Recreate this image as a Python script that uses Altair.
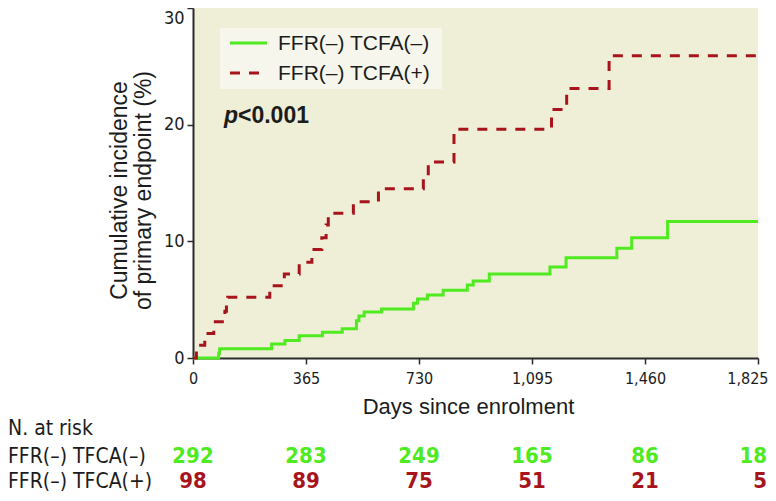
import altair as alt
import pandas as pd

# ---------------- data ----------------
series_names = ["FFR(–) TCFA(–)", "FFR(–) TCFA(+)"]
table_names = ["FFR(–) TFCA(–)", "FFR(–) TFCA(+)"]
x_ticks = [0, 365, 730, 1095, 1460, 1825]
y_ticks = [0, 10, 20, 30]

neg_days = [0, 83, 86, 254, 297, 343, 418, 482, 528, 536, 553, 609, 712, 725,
            757, 808, 886, 905, 957, 1153, 1205, 1369, 1417, 1533, 1825]
neg_vals = [0, 0.4, 0.8, 1.2, 1.5, 1.9, 2.2, 2.5, 3.2, 3.6, 3.95, 4.2, 4.7, 5.05,
            5.4, 5.8, 6.25, 6.6, 7.2, 7.8, 8.6, 9.4, 10.3, 11.7, 11.7]

pos_days = [0, 11, 38, 67, 103, 108, 112, 248, 295, 343, 384, 416, 430, 437,
            518, 599, 744, 760, 843, 1158, 1207, 1344, 1825]
pos_vals = [0, 1.1, 2.1, 3.1, 4.0, 4.6, 5.2, 6.2, 7.2, 8.2, 9.3, 10.3, 11.4, 12.4,
            13.4, 14.5, 15.6, 16.8, 19.6, 21.3, 23.1, 25.9, 25.9]

risk_days = [0, 365, 730, 1095, 1460, 1825]
risk_neg = [292, 283, 249, 165, 86, 18]
risk_pos = [98, 89, 75, 51, 21, 5]

p_label = ["p", "<0.001"]

# ---------------- style ----------------
GREEN = "#4FEA1F"
RED = "#A8141C"
BEIGE = "#EFEED6"
LEGBG = "#F6F6EC"
INK = "#1c1c1c"
SANS = "Liberation Sans, Arial, sans-serif"
NARROW = "DejaVu Sans Condensed, DejaVu Sans, sans-serif"
LAST = risk_days[-1]

km_df = pd.concat([
    pd.DataFrame({"day": neg_days, "value": neg_vals, "group": series_names[0]}),
    pd.DataFrame({"day": pos_days, "value": pos_vals, "group": series_names[1]}),
], ignore_index=True)

x_scale = alt.Scale(domain=[0, 1825], nice=False, zero=False)
y_scale = alt.Scale(domain=[0, 30], nice=False)
X_TITLE = "Days since enrolment"

km = alt.Chart(km_df).mark_line(interpolate="step-after", strokeWidth=3).encode(
    x=alt.X("day:Q", scale=x_scale, title=X_TITLE,
            axis=alt.Axis(values=x_ticks, format=",d", labelFont=NARROW, labelFontSize=16,
                          labelPadding=6, labelFlush=False, labelOverlap=False,
                          labelAlign={"condition": {"test": "datum.value == 1825", "value": "right"},
                                      "value": "center"},
                          labelOffset={"condition": {"test": "datum.value == 1825", "value": 10},
                                       "value": 0},
                          titleFont=SANS, titleFontSize=22, titleFontWeight="normal",
                          titleX=275, titleY=55, titleBaseline="alphabetic")),
    y=alt.Y("value:Q", scale=y_scale,
            axis=alt.Axis(values=y_ticks, labelFont=NARROW, labelFontSize=18, labelPadding=3,
                          labelOffset={"condition": {"test": "datum.value == 30", "value": 10},
                                       "value": 0},
                          title=["Cumulative incidence", "of primary endpoint (%)"],
                          titleFont=SANS, titleFontSize=23, titleFontWeight="normal",
                          titleX=-67, titleY=182, titleAlign="center",
                          titleBaseline="alphabetic", titleLineHeight=24)),
    color=alt.Color("group:N", scale=alt.Scale(domain=series_names, range=[GREEN, RED]), legend=None),
    strokeDash=alt.StrokeDash("group:N", scale=alt.Scale(domain=series_names, range=[[1, 0], [10, 9]]),
                              legend=None),
)

one = pd.DataFrame({"k": [0]})

legend_box = alt.Chart(one).mark_rect(fill=LEGBG).encode(
    x=alt.value(27), x2=alt.value(249), y=alt.value(20), y2=alt.value(81))
leg_line_g = alt.Chart(one).mark_rule(color=GREEN, strokeWidth=3).encode(
    x=alt.value(37), x2=alt.value(74), y=alt.value(35))
leg_line_r = alt.Chart(one).mark_rule(color=RED, strokeWidth=3, strokeDash=[10, 9]).encode(
    x=alt.value(37), x2=alt.value(74), y=alt.value(65))
leg_txt_g = alt.Chart(pd.DataFrame({"t": [series_names[0]]})).mark_text(
    font=SANS, fontSize=21, color=INK, align="left", baseline="middle").encode(
    x=alt.value(85), y=alt.value(36), text="t:N")
leg_txt_r = alt.Chart(pd.DataFrame({"t": [series_names[1]]})).mark_text(
    font=SANS, fontSize=21, color=INK, align="left", baseline="middle").encode(
    x=alt.value(85), y=alt.value(66), text="t:N")

p_italic = alt.Chart(pd.DataFrame({"t": [p_label[0]]})).mark_text(
    font=SANS, fontSize=23, fontWeight="bold", fontStyle="italic", color=INK,
    align="left", baseline="alphabetic").encode(x=alt.value(31), y=alt.value(115), text="t:N")
p_rest = alt.Chart(pd.DataFrame({"t": [p_label[1]]})).mark_text(
    font=SANS, fontSize=23, fontWeight="bold", color=INK,
    align="left", baseline="alphabetic").encode(x=alt.value(45), y=alt.value(115), text="t:N")

txt_style = dict(font=NARROW, fontSize=21, color=INK, align="left", baseline="alphabetic")
risk_head = alt.Chart(pd.DataFrame({"t": ["N. at risk"]})).mark_text(**txt_style).encode(
    x=alt.value(-185), y=alt.value(427), text="t:N")
row_lab_g = alt.Chart(pd.DataFrame({"t": [table_names[0]]})).mark_text(**txt_style).encode(
    x=alt.value(-185), y=alt.value(455), text="t:N")
row_lab_r = alt.Chart(pd.DataFrame({"t": [table_names[1]]})).mark_text(**txt_style).encode(
    x=alt.value(-185), y=alt.value(480), text="t:N")

risk_df = pd.DataFrame({"day": risk_days, "neg": risk_neg, "pos": risk_pos})


def risk_layer(field, color, ypix, last):
    base = alt.Chart(risk_df)
    if last:
        base = base.transform_filter(alt.datum.day == LAST)
        mk = base.mark_text(font=NARROW, fontSize=22, fontWeight="bold", color=color,
                            align="right", dx=9, baseline="alphabetic")
    else:
        base = base.transform_filter(alt.datum.day != LAST)
        mk = base.mark_text(font=NARROW, fontSize=22, fontWeight="bold", color=color,
                            align="center", baseline="alphabetic")
    return mk.encode(x=alt.X("day:Q", scale=x_scale, title=X_TITLE),
                     y=alt.value(ypix), text=alt.Text(f"{field}:Q"))


risk_layers = [
    risk_layer("neg", GREEN, 455, False), risk_layer("neg", GREEN, 455, True),
    risk_layer("pos", RED, 480, False), risk_layer("pos", RED, 480, True),
]

chart = alt.layer(
    km, legend_box, leg_line_g, leg_line_r, leg_txt_g, leg_txt_r, p_italic, p_rest,
    risk_head, row_lab_g, row_lab_r, *risk_layers,
).properties(
    width=565, height=350,
    autosize=alt.AutoSizeParams(type="none"),
    padding={"left": 185, "top": 0, "right": 10, "bottom": 135},
    background="white",
).configure_view(
    fill=BEIGE, stroke=None,
).configure_axis(
    grid=False, domainColor="#2a2a2a", domainWidth=2, tickColor="#2a2a2a", tickWidth=1.5,
    tickSize=6, labelColor=INK, titleColor=INK,
)

chart.save("out.html", embed_options={"renderer": "svg", "actions": False})
